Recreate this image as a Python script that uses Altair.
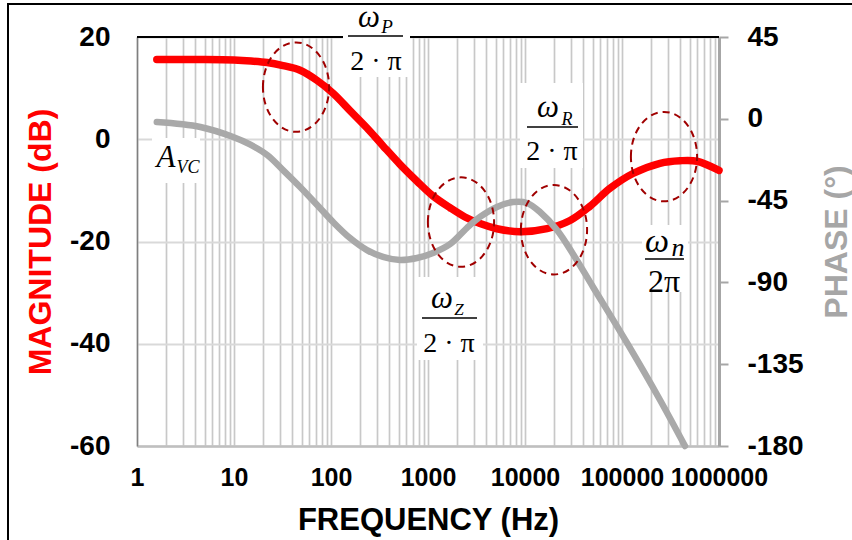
import altair as alt
import pandas as pd

# ---- data ----
freq_mag = [1.6, 5, 10, 15, 22, 32, 48, 72, 105, 157, 235, 344, 514, 770, 1127, 1686, 2405,
            3436, 5140, 8880, 16870, 29100, 46800, 75200, 129800, 246600, 396000, 593000, 1000000]
mag_db = [15.6, 15.6, 15.5, 15.3, 15.0, 14.4, 13.5, 11.5, 9.0, 5.6, 2.2, -1.3, -4.9, -8.2, -11.1,
          -13.4, -15.2, -16.5, -17.5, -18.1, -17.5, -15.9, -13.1, -9.6, -6.7, -4.7, -4.2, -4.3, -6.1]

freq_ph = [1.6, 4.5, 9.8, 14.6, 22, 32, 48, 72, 105, 157, 235, 344, 514, 770, 1127, 1686, 2524,
           3436, 5140, 7520, 10490, 14280, 21380, 31240, 50230, 112700, 246600, 445900]
phase_deg = [-1.8, -4.5, -10.0, -14.1, -19.9, -28.2, -37.5, -47.4, -56.8, -65.6, -72.2, -76.0,
             -77.7, -76.6, -73.8, -69.0, -60.0, -54.0, -48.5, -45.8, -46.3, -51.3, -61.2, -74.4,
             -92.5, -123.3, -154.7, -180.0]

ell_freq = [43.6, 2188, 19900, 271000]
ell_db = [10.2, -16.2, -17.7, -3.4]

x_major = [1, 10, 100, 1000, 10000, 100000, 1000000]
x_grid = [m * 10 ** k for k in range(6) for m in range(1, 10)] + [1000000]
mag_ticks = [20, 0, -20, -40, -60]
phase_ticks = [45, 0, -45, -90, -135, -180]

# ---- layout ----
W, H = 582, 409
PL, PT = 137, 37
FONT = "Liberation Sans"
SERIF = "Liberation Serif"

xscale = alt.Scale(type="log", domain=[1, 1000000], nice=False)
magscale = alt.Scale(domain=[-60, 20], nice=False, zero=False)
phscale = alt.Scale(domain=[-180, 45], nice=False, zero=False)

x_axis = alt.Axis(
    values=x_grid, format="d",
    labelExpr="indexof([1,10,100,1000,10000,100000,1000000], datum.value) >= 0 ? toString(datum.value) : ''",
    labelFont=FONT, labelFontSize=25, labelFontWeight="bold", labelColor="black",
    labelOverlap=False, labelFlush=False, labelBound=False,
    labelBaseline="middle", labelPadding=31,
    ticks=False, tickSize=0,
    domainColor="#bfbfbf", domainWidth=2.5,
    grid=True, gridColor="#c8c8c8", gridWidth=1.7,
    title="FREQUENCY (Hz)", titleFont=FONT, titleFontSize=31, titleFontWeight="bold",
    titleColor="black", titleX=W / 2, titleY=74, titleBaseline="middle", titleAlign="center",
)

mag_axis = alt.Axis(
    values=mag_ticks, orient="left", labelExpr="toString(datum.value)",
    labelFont=FONT, labelFontSize=28, labelFontWeight="bold", labelColor="black",
    labelPadding=27, labelFlush=False, labelOverlap=False,
    ticks=False, tickSize=0,
    domainColor="#7f7f7f", domainWidth=1.5,
    grid=True, gridColor="#d9d9d9", gridWidth=2,
    title="MAGNITUDE (dB)", titleFont=FONT, titleFontSize=32, titleFontWeight="bold",
    titleColor="#ff0000", titleAngle=270, titleX=40 - PL, titleY=H / 2,
    titleBaseline="middle", titleAlign="center",
)

ph_axis = alt.Axis(
    values=phase_ticks, orient="right", labelExpr="toString(datum.value)",
    labelFont=FONT, labelFontSize=28, labelFontWeight="bold", labelColor="black",
    labelPadding=19, labelFlush=False, labelOverlap=False,
    ticks=True, tickSize=9, tickColor="#a6a6a6", tickWidth=2,
    domainColor="#a6a6a6", domainWidth=3, grid=False,
    title="PHASE (°)", titleFont=FONT, titleFontSize=32, titleFontWeight="bold",
    titleColor="#a6a6a6", titleAngle=270, titleX=836 - (PL + W), titleY=H / 2,
    titleBaseline="middle", titleAlign="center",
)

one = pd.DataFrame({"k": [0]})
mag_df = pd.DataFrame({"f": freq_mag, "db": mag_db})
ph_df = pd.DataFrame({"f": freq_ph, "ph": phase_deg})
ell_df = pd.DataFrame({"f": ell_freq, "db": ell_db})


def X(v):
    return alt.value(v - PL)


def Y(v):
    return alt.value(v - PT)


def box(x1, x2, y1, y2):
    return alt.Chart(one).mark_rect(color="white").encode(x=X(x1), x2=X(x2), y=Y(y1), y2=Y(y2))


def bar(x1, x2, y):
    return alt.Chart(one).mark_rule(color="black", strokeWidth=1.5).encode(x=X(x1), x2=X(x2), y=Y(y))


def txt(s, x, y, size, italic=True, font=SERIF):
    return alt.Chart(one).mark_text(
        text=s, font=font, fontSize=size, fontStyle="italic" if italic else "normal",
        align="center", baseline="alphabetic", color="black"
    ).encode(x=X(x), y=Y(y))


frame = alt.Chart(one).mark_rect(fillOpacity=0, stroke="black", strokeWidth=2).encode(
    x=X(8), x2=X(880), y=Y(4), y2=Y(580))
top_border = alt.Chart(one).mark_rule(color="black", strokeWidth=2).encode(
    x=alt.value(0), x2=alt.value(W), y=alt.value(0))

red = alt.Chart(mag_df).mark_line(
    color="#ff0000", strokeWidth=7.5, interpolate="catmull-rom", strokeCap="round"
).encode(
    x=alt.X("f:Q", scale=xscale, axis=x_axis),
    y=alt.Y("db:Q", scale=magscale, axis=mag_axis),
)

gray = alt.Chart(ph_df).mark_line(
    color="#a9a9a9", strokeWidth=6.5, interpolate="catmull-rom", strokeCap="round"
).encode(
    x=alt.X("f:Q", scale=xscale, axis=x_axis),
    y=alt.Y("ph:Q", scale=phscale, axis=ph_axis),
)

ellipse_path = "M -0.74 0 A 0.74 1 0 1 1 0.74 0 A 0.74 1 0 1 1 -0.74 0 Z"
ellipses = alt.Chart(ell_df).mark_point(
    shape=ellipse_path, size=8000, filled=False, fillOpacity=0,
    stroke="#a00000", strokeWidth=2, strokeDash=[7, 5], opacity=1
).encode(
    x=alt.X("f:Q", scale=xscale, axis=x_axis),
    y=alt.Y("db:Q", scale=magscale, axis=None),
)

layers = [
    frame, top_border,
    box(343, 410, 10, 77), box(520, 583, 83, 168), box(417, 483, 277, 360),
    box(642, 688, 225, 292), box(152, 200, 138, 183),
    red, gray, ellipses,
    bar(348, 403, 36), bar(527, 578, 127), bar(422, 477, 318), bar(645, 684, 259),
    txt("ω", 369, 27, 31), txt("P", 387, 33, 19),
    txt("2 · π", 376, 70, 28, italic=False),
    txt("ω", 548, 117, 31), txt("R", 567, 125, 18),
    txt("2 · π", 552, 160, 28, italic=False),
    txt("ω", 442, 308, 31), txt("Z", 459, 315, 17),
    txt("2 · π", 449, 352, 28, italic=False),
    txt("ω", 657, 252, 34), txt("n", 678, 256, 26),
    txt("2π", 664, 292, 32, italic=False),
    txt("A", 166, 167, 31), txt("VC", 188, 173, 18),
]

chart = alt.layer(*layers).resolve_scale(y="independent").properties(
    width=W, height=H,
    autosize=alt.AutoSizeParams(type="none"),
    padding={"left": PL, "top": PT, "right": 852 - PL - W, "bottom": 540 - PT - H},
    background="white",
).configure_view(stroke="transparent")

chart.save("out.html", embed_options={"renderer": "svg", "actions": False})
